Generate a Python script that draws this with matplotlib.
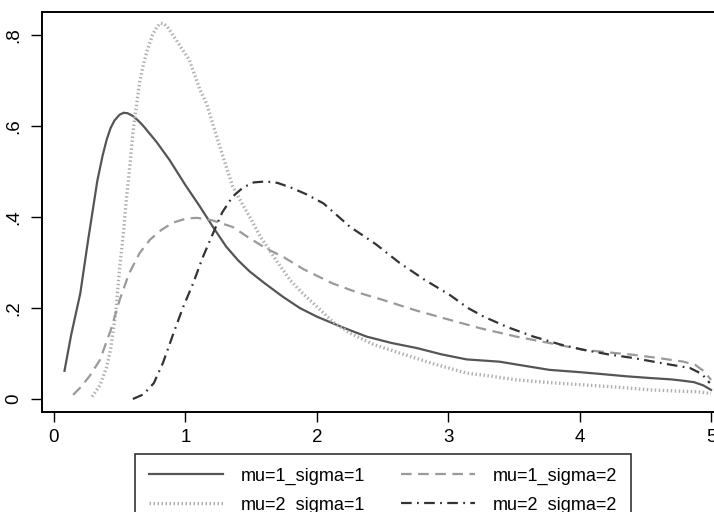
import matplotlib
matplotlib.use("Agg")
import matplotlib.pyplot as plt

plt.rcParams['font.family'] = ['Liberation Sans', 'DejaVu Sans']

# ---- data ----
labels = ["mu=1_sigma=1", "mu=2_sigma=1", "mu=1_sigma=2", "mu=2_sigma=2"]

x_m1s1 = [0.08, 0.13, 0.2, 0.26, 0.33, 0.37, 0.4, 0.43, 0.46, 0.5, 0.53, 0.56, 0.6, 0.64, 0.68,
          0.78, 0.88, 1.0, 1.11, 1.21, 1.31, 1.4, 1.49, 1.6, 1.74, 1.87, 2.0, 2.2, 2.38, 2.57,
          2.76, 2.95, 3.14, 3.39, 3.6, 3.77, 4.0, 4.16, 4.35, 4.54, 4.7, 4.79, 4.87, 4.94, 5.0]
y_m1s1 = [0.062, 0.14, 0.232, 0.35, 0.48, 0.535, 0.569, 0.595, 0.612, 0.625, 0.629, 0.628,
          0.622, 0.612, 0.60, 0.565, 0.525, 0.47, 0.423, 0.378, 0.335, 0.305, 0.28, 0.255, 0.225,
          0.2, 0.181, 0.157, 0.137, 0.123, 0.112, 0.098, 0.087, 0.082, 0.072, 0.064, 0.059,
          0.055, 0.05, 0.046, 0.043, 0.04, 0.037, 0.03, 0.02]

x_m2s1 = [0.29, 0.35, 0.4, 0.43, 0.47, 0.5, 0.53, 0.55, 0.58, 0.6, 0.63, 0.65, 0.68, 0.71, 0.75,
          0.78, 0.81, 0.84, 0.87, 0.93, 1.03, 1.11, 1.16, 1.24, 1.3, 1.36, 1.43, 1.49, 1.57, 1.69,
          1.8, 1.9, 2.0, 2.12, 2.25, 2.43, 2.63, 2.88, 3.14, 3.33, 3.52, 3.77, 4.03, 4.29, 4.54,
          4.77, 4.9, 5.0]
y_m2s1 = [0.005, 0.03, 0.07, 0.108, 0.19, 0.29, 0.37, 0.437, 0.52, 0.584, 0.65, 0.694, 0.735,
          0.767, 0.8, 0.816, 0.826, 0.824, 0.815, 0.789, 0.745, 0.68, 0.65, 0.575, 0.52, 0.467,
          0.43, 0.40, 0.357, 0.305, 0.26, 0.23, 0.203, 0.17, 0.145, 0.12, 0.101, 0.078, 0.057,
          0.05, 0.042, 0.036, 0.031, 0.026, 0.02, 0.017, 0.016, 0.012]

x_m1s2 = [0.145, 0.2, 0.27, 0.35, 0.43, 0.5, 0.57, 0.65, 0.73, 0.81, 0.9, 1.01, 1.09, 1.2, 1.36,
          1.49, 1.62, 1.74, 1.9, 2.12, 2.3, 2.5, 2.75, 3.01, 3.25, 3.52, 3.77, 4.03, 4.2, 4.41,
          4.6, 4.79, 4.88, 4.95, 5.0]
y_m1s2 = [0.009, 0.025, 0.05, 0.086, 0.15, 0.218, 0.275, 0.32, 0.35, 0.37, 0.387, 0.397, 0.398,
          0.393, 0.378, 0.353, 0.33, 0.313, 0.285, 0.254, 0.235, 0.218, 0.195, 0.174, 0.155,
          0.137, 0.123, 0.108, 0.103, 0.097, 0.09, 0.082, 0.075, 0.06, 0.042]

x_m2s2 = [0.60, 0.68, 0.76, 0.83, 0.91, 0.98, 1.06, 1.13, 1.21, 1.28, 1.36, 1.44, 1.52, 1.61,
          1.7, 1.8, 1.92, 2.05, 2.25, 2.45, 2.63, 2.82, 3.01, 3.15, 3.27, 3.45, 3.65, 3.85, 4.03,
          4.22, 4.41, 4.6, 4.84, 4.93, 4.99]
y_m2s2 = [0.0, 0.01, 0.035, 0.08, 0.145, 0.2, 0.255, 0.31, 0.364, 0.41, 0.445, 0.465, 0.476,
          0.478, 0.475, 0.465, 0.45, 0.43, 0.379, 0.34, 0.299, 0.262, 0.229, 0.2, 0.181, 0.158,
          0.137, 0.12, 0.108, 0.098, 0.09, 0.08, 0.068, 0.055, 0.035]

x_ticks = [0, 1, 2, 3, 4, 5]
x_tick_labels = ["0", "1", "2", "3", "4", "5"]
y_ticks = [0, 0.2, 0.4, 0.6, 0.8]
y_tick_labels = ["0", ".2", ".4", ".6", ".8"]

# ---- figure ----
W, H = 714, 512
fig = plt.figure(figsize=(W / 100, H / 100), dpi=100)
left, right, top, bottom = 42, 715, 12, 412
ax = fig.add_axes([left / W, 1 - bottom / H, (right - left) / W, (bottom - top) / H])

l1, = ax.plot(x_m1s1, y_m1s1, color='#555555', lw=1.6, solid_joinstyle='round')
l2, = ax.plot(x_m2s1, y_m2s1, color='#b0b0b0', lw=2.4, linestyle=(0, (0.45, 0.75)))
l3, = ax.plot(x_m1s2, y_m1s2, color='#9a9a9a', lw=1.6, linestyle=(0, (4.8, 2.9)))
l4, = ax.plot(x_m2s2, y_m2s2, color='#333333', lw=1.6, linestyle=(0, (4.8, 2.4, 0.8, 2.4)))

ax.set_xlim(-0.0913, 5.03)
ax.set_ylim(-0.0286, 0.8505)
ax.set_xticks(x_ticks)
ax.set_xticklabels(x_tick_labels)
ax.set_yticks(y_ticks)
ax.set_yticklabels(y_tick_labels, rotation=90, va='center')
ax.tick_params(axis='both', labelsize=13.5, direction='out', color='black', width=1.0)
ax.tick_params(axis='x', length=7, pad=5)
ax.tick_params(axis='y', length=8, pad=6)
for side in ['left', 'bottom', 'top']:
    ax.spines[side].set_linewidth(1.4)
    ax.spines[side].set_color('black')
ax.spines['right'].set_visible(False)

leg = fig.legend([l1, l2, l3, l4], labels, ncol=2,
                 loc='upper left', bbox_to_anchor=(135 / W, 1 - 454 / H),
                 bbox_transform=fig.transFigure,
                 fontsize=13, frameon=True, fancybox=False, edgecolor='black',
                 handlelength=4.1, handletextpad=1.0, columnspacing=2.0,
                 labelspacing=0.65, borderpad=0.75, borderaxespad=0)
leg.get_frame().set_linewidth(1.2)

fig.savefig("out.png", dpi=100, facecolor='white')
